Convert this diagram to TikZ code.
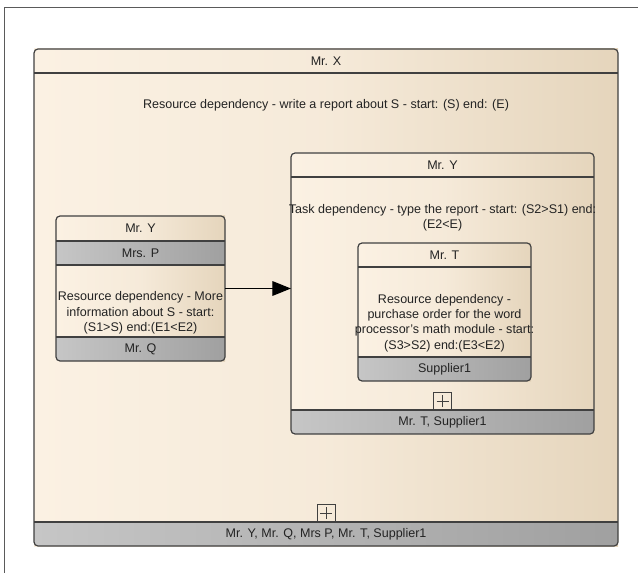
\documentclass[tikz,border=0pt]{standalone}
\usepackage{fontspec}
\setmainfont{Liberation Sans}
\usetikzlibrary{fit,arrows.meta}
\definecolor{creamL}{RGB}{251,241,227}
\definecolor{creamR}{RGB}{229,213,188}
\definecolor{bandL}{RGB}{198,198,198}
\definecolor{bandR}{RGB}{160,160,160}
\definecolor{edgec}{RGB}{64,64,64}
\definecolor{ink}{RGB}{35,35,35}
\definecolor{framec}{RGB}{90,90,90}
\begin{document}
\begin{tikzpicture}[x=0.75pt,y=-0.75pt,
  body/.style={inner sep=0pt, outer sep=0pt, left color=creamL, right color=creamR, middle color=creamL!75!creamR},
  band/.style={left color=bandL, right color=bandR},
  edge/.style={draw=edgec, line width=0.9pt},
  outline/.style={edge, rounded corners=3pt},
  lbl/.style={font=\fontsize{9.4}{11.6}\selectfont, text=ink, inner sep=0pt, align=center},
  plusbox/.style={draw=edgec, line width=0.75pt, minimum size=13.5pt, inner sep=0pt,
    path picture={
      \draw[edgec, line width=0.6pt]
        ([xshift=-4.5pt]path picture bounding box.center) -- ([xshift=4.5pt]path picture bounding box.center)
        ([yshift=-4.5pt]path picture bounding box.center) -- ([yshift=4.5pt]path picture bounding box.center);
    }},
]
\useasboundingbox (0,0) rectangle (638,573);

% page frame
\draw[framec, line width=1.1pt] (4.5,573) -- (4.5,7.5) -- (638,7.5);

% ---------- Mr. X ----------
\node[body, fit={(34,49) (618,546)}] (mrx) {};
\begin{scope}
  \clip[rounded corners=3pt] (mrx.south west) rectangle (mrx.north east);
  \shade[band] (34,522) rectangle (618,546);
\end{scope}
\draw[edge] (34,73) -- (618,73) (34,522) -- (618,522);
\draw[outline] (mrx.south west) rectangle (mrx.north east);
\node[lbl] (mrxT) at (326,61) {Mr. X};
\node[lbl] (mrxD) at (326,105) {Resource dependency - write a report about S - start: (S) end: (E)};
\node[lbl] (mrxB) at (326,534) {Mr. Y, Mr. Q, Mrs P, Mr. T, Supplier1};
\node[plusbox] (mrxP) at (326,513) {};

% ---------- Mr. Y (left) ----------
\node[body, fit={(56,216) (225,361)}] (lmy) {};
\begin{scope}
  \clip[rounded corners=3pt] (lmy.south west) rectangle (lmy.north east);
  \shade[band] (56,241) rectangle (225,265);
  \shade[band] (56,337) rectangle (225,361);
\end{scope}
\draw[edge] (56,241) -- (225,241) (56,265) -- (225,265) (56,337) -- (225,337);
\draw[outline] (lmy.south west) rectangle (lmy.north east);
\node[lbl] (lmyT) at (140.5,228.5) {Mr. Y};
\node[lbl] (lmyP) at (140.5,253) {Mrs. P};
\node[lbl] (lmyD) at (140.5,313) {Resource dependency - More\\information about S - start:\\(S1>S) end:(E1<E2)};
\node[lbl] (lmyQ) at (140.5,349) {Mr. Q};

% ---------- Mr. Y (right) ----------
\node[body, fit={(291,153) (594,434)}] (rmy) {};
\begin{scope}
  \clip[rounded corners=3pt] (rmy.south west) rectangle (rmy.north east);
  \shade[band] (291,410) rectangle (594,434);
\end{scope}
\draw[edge] (291,177) -- (594,177) (291,410) -- (594,410);
\draw[outline] (rmy.south west) rectangle (rmy.north east);
\node[lbl] (rmyT) at (442.5,165) {Mr. Y};
\node[lbl] (rmyD) at (442.5,217.5) {Task dependency - type the report - start: (S2>S1) end:\\(E2<E)};
\node[lbl] (rmyB) at (442.5,422) {Mr. T, Supplier1};
\node[plusbox] (rmyP) at (442.5,401) {};

% ---------- Mr. T ----------
\node[body, fit={(358,243) (531,381)}] (mrt) {};
\begin{scope}
  \clip[rounded corners=3pt] (mrt.south west) rectangle (mrt.north east);
  \shade[band] (358,357) rectangle (531,381);
\end{scope}
\draw[edge] (358,267) -- (531,267) (358,357) -- (531,357);
\draw[outline] (mrt.south west) rectangle (mrt.north east);
\node[lbl] (mrtT) at (444.5,255) {Mr. T};
\node[lbl] (mrtD) at (444.5,323) {Resource dependency -\\purchase order for the word\\processor's math module - start:\\(S3>S2) end:(E3<E2)};
\node[lbl] (mrtB) at (444.5,369) {Supplier1};

% ---------- dependency arrow ----------
\draw[draw=black, line width=0.8pt, -{Triangle[length=14pt,width=11pt]}]
  (lmy.east) -- (rmy.west |- lmy.east);
\end{tikzpicture}
\end{document}
